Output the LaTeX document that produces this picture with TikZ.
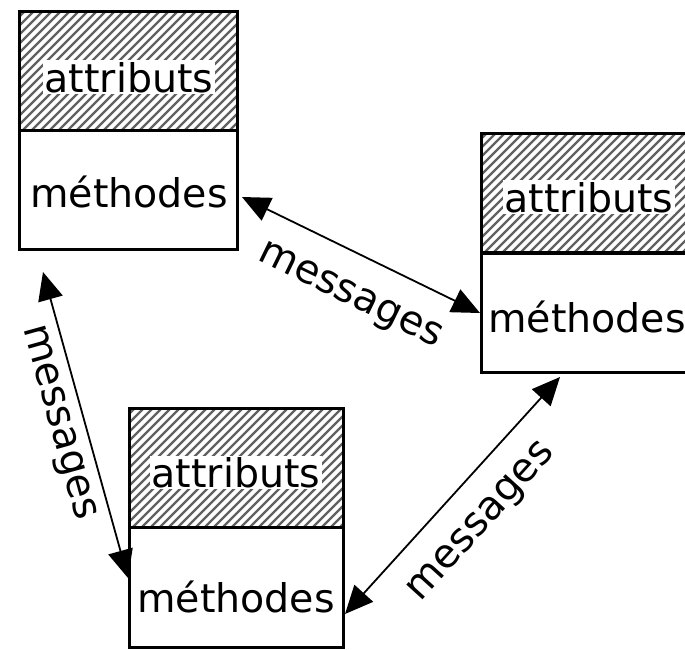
\documentclass[tikz,border=0pt]{standalone}
\usepackage{fontspec}
\setmainfont{DejaVu Sans}
\usetikzlibrary{arrows.meta}

\tikzset{
  hatchline/.style={line width=2.2pt, draw=black!62},
  part/.style={minimum width=218pt, minimum height=119pt, inner sep=0pt,
    outer sep=0pt, anchor=north west},
  upper/.style={part,
    path picture={
      \foreach \i in {-140,-131,...,240}
        \draw[hatchline] ([xshift=\i pt]path picture bounding box.south west)
          -- ++(140pt,140pt);
    },
    postaction={draw, line width=3pt}},
  lower/.style={part, draw, line width=3pt, fill=white},
  word/.style={font=\fontsize{39.5}{47}\selectfont, anchor=base,
    inner sep=1.5pt, fill=white},
  msg/.style={{Triangle[length=28pt,width=25pt]}-{Triangle[length=28pt,width=25pt]},
    line width=1.8pt},
  msglabel/.style={font=\fontsize{40}{48}\selectfont, sloped, midway,
    anchor=center, inner sep=0pt}
}

\begin{document}
\begin{tikzpicture}[x=1pt, y=-1pt]
  \useasboundingbox (0,0) rectangle (685,649);
  \clip (0,0) rectangle (685,649);

  % object 1 (top left)
  \node[upper] (o1a) at (19,11) {};
  \node[lower] (o1m) at (19,130) {};
  \node[word] (t1a) at (129,92) {attributs};
  \node[word] (t1m) at (129,207) {méthodes};

  % object 2 (right)
  \node[upper] (o2a) at (481,133) {};
  \node[lower] (o2m) at (481,253) {};
  \node[word] (t2a) at (589,212) {attributs};
  \node[word] (t2m) at (587,332) {méthodes};

  % object 3 (bottom)
  \node[upper, minimum width=214pt] (o3a) at (129,408) {};
  \node[lower, minimum width=214pt, minimum height=120pt] (o3m) at (129,527) {};
  \node[word] (t3a) at (236,487) {attributs};
  \node[word] (t3m) at (236,612) {méthodes};

  % arrow end points
  \coordinate (p12) at (242,197);
  \coordinate (p21) at (480,313);
  \coordinate (p13) at (43,272);
  \coordinate (p31) at (128,578);
  \coordinate (p32) at (345,614);
  \coordinate (p23) at (560,377);

  % message exchanges
  \draw[msg] (p12) -- node[msglabel, yshift=-43pt, pos=0.53] (l1) {messages} (p21);
  \draw[msg] (p13) -- node[msglabel, yshift=-27pt, pos=0.47] (l2) {messages} (p31);
  \draw[msg] (p32) -- node[msglabel, yshift=-41pt] (l3) {messages} (p23);
\end{tikzpicture}
\end{document}
